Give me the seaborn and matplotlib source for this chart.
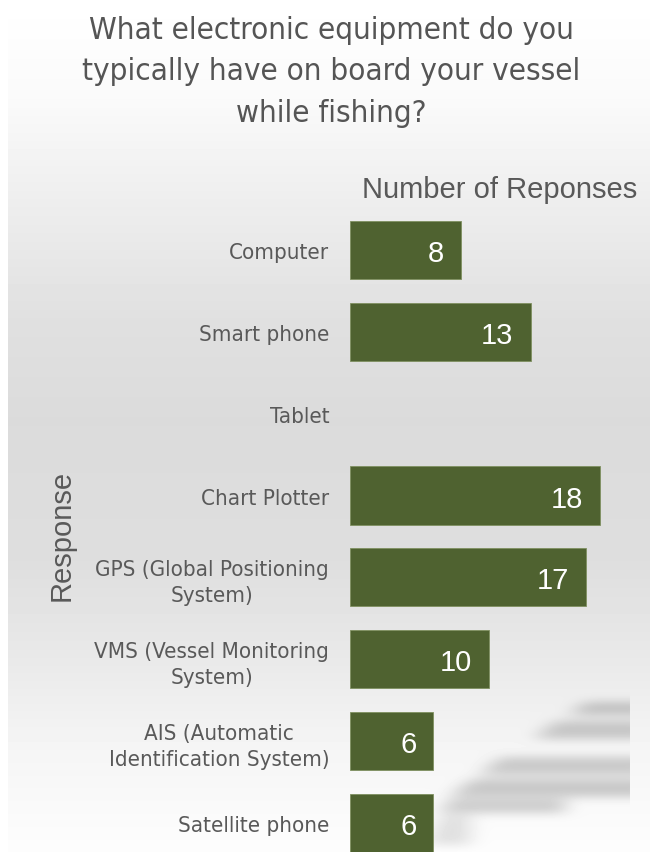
import numpy as np
import pandas as pd
import matplotlib
matplotlib.use("Agg")
import matplotlib.pyplot as plt
import seaborn as sns
from matplotlib import font_manager as fm

categories = [
    "Computer",
    "Smart phone",
    "Tablet",
    "Chart Plotter",
    "GPS (Global Positioning\nSystem)",
    "VMS (Vessel Monitoring\nSystem)",
    "AIS (Automatic\nIdentification System)",
    "Satellite phone",
]
responses = [8, 13, 0, 18, 17, 10, 6, 6]

title_text = "What electronic equipment do you\ntypically have on board your vessel\nwhile fishing?"
x_title = "Number of Reponses"
y_title = "Response"

BAR = "#4f6230"
TEXT = "#595959"
TITLE = "#555555"
REGULAR = ["Liberation Sans", "DejaVu Sans"]

# pick a condensed face when one is available
narrow_file = None
for f in fm.fontManager.ttflist:
    if f.name == "DejaVu Sans" and f.stretch == "condensed" and f.style == "normal" \
            and f.weight in (400, "normal"):
        narrow_file = f.fname
        break
if narrow_file:
    NARROW = fm.FontProperties(fname=narrow_file)
else:
    NARROW = fm.FontProperties(family=["DejaVu Sans"])

sns.set_theme(style="white")
plt.rcParams["font.family"] = REGULAR

W, H = 650, 853
fig = plt.figure(figsize=(W / 100, H / 100), dpi=100)
fig.patch.set_facecolor("white")

# ---- backdrop: soft vertical gradient with blurred streaks ----
yy = np.arange(H)
prof = np.interp(yy, [0, 100, 200, 320, 420, 560, 650, 750, 853],
                 [255, 250, 238, 224, 219, 222, 232, 245, 253])
bg = np.repeat(prof[:, None], W, axis=1).astype(float)

shade = np.zeros((H, W))
def slab(y0, y1, xl0, xl1, xr, depth):
    for y in range(y0, y1):
        t = (y - y0) / max(1, (y1 - y0 - 1))
        xl = int(xl0 + (xl1 - xl0) * t)
        shade[y, xl:xr] = np.maximum(shade[y, xl:xr], depth)

slab(703, 716, 585, 570, 660, 48)
slab(722, 740, 555, 535, 660, 45)
slab(758, 776, 500, 480, 660, 45)
slab(780, 798, 472, 450, 660, 48)
slab(800, 814, 450, 440, 565, 45)
slab(816, 846, 442, 428, 470, 28)

def box_blur(a, r, axis):
    k = np.ones(2 * r + 1) / (2 * r + 1)
    return np.apply_along_axis(lambda v: np.convolve(v, k, mode="same"), axis, a)

for _ in range(3):
    shade = box_blur(shade, 9, 1)
    shade = box_blur(shade, 4, 0)
shade[:, 630:] = 0
bg = np.clip(bg - shade, 0, 255)
bg[:, :8] = 255

bax = fig.add_axes([0, 0, 1, 1], zorder=0)
bax.imshow(bg, cmap="gray", vmin=0, vmax=255, aspect="auto",
           extent=(0, W, H, 0), interpolation="bilinear")
bax.set_axis_off()

# ---- bar chart ----
df = pd.DataFrame({"Response": categories, "Count": responses})
ax = fig.add_axes([350 / W, 0, 300 / W, (H - 210) / H], zorder=1)
ax.patch.set_alpha(0)
sns.barplot(data=df, x="Count", y="Response", orient="h", color=BAR,
            saturation=1, width=0.71, edgecolor="#7f9060", linewidth=0.6,
            ax=ax)
for p in ax.patches:
    if p.get_width() == 0:
        p.set_visible(False)
px_per_unit = 250 / 18
ax.set_xlim(0, 300 / px_per_unit)
ax.set_ylim(7.354, -0.5)
for s in ax.spines.values():
    s.set_visible(False)
ax.set_xticks([])
ax.set_xlabel("")
ax.set_ylabel("")
ax.tick_params(axis="y", length=0, pad=15)
ax.set_yticks(range(len(categories)))
ax.set_yticklabels(categories)
for lab in ax.get_yticklabels():
    lab.set_fontproperties(NARROW)
    lab.set_fontsize(16)
    lab.set_color(TEXT)
    lab.set_multialignment("center")
    lab.set_linespacing(1.35)

for i, v in enumerate(responses):
    if v > 0:
        ax.text(v - 17 / px_per_unit, i, str(v), ha="right", va="center_baseline",
                color="white", fontsize=21, family=REGULAR)

fig.text(500 / W, 1 - 190 / H, x_title, ha="center", va="center",
         fontsize=21, color=TEXT, family=REGULAR)
fig.text(62 / W, 1 - 535 / H, y_title, ha="center", va="center",
         rotation=90, fontsize=21, color=TEXT, family=REGULAR)
t = fig.text(331 / W, 1 - 72 / H, title_text, ha="center", va="center",
             color=TITLE, linespacing=1.55)
t.set_fontproperties(NARROW)
t.set_fontsize(22.5)

fig.savefig("out.png", dpi=100, facecolor="white")
